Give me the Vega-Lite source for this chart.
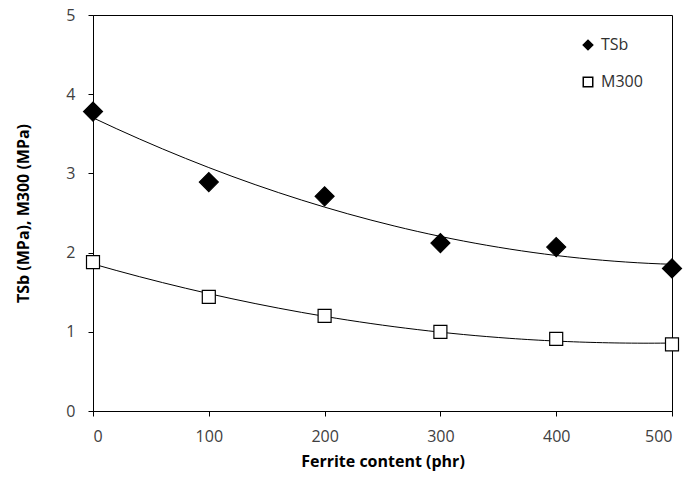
{
  "$schema": "https://vega.github.io/schema/vega-lite/v6.json",
  "width": 579,
  "height": 396,
  "autosize": {"type": "none"},
  "padding": {"left": 93, "top": 15, "right": 16, "bottom": 84},
  "background": "white",
  "config": {
    "font": "Open Sans",
    "view": {"stroke": "#000000", "strokeWidth": 1}
  },
  "data": {
    "values": [
      {"ferrite": 0, "value": 3.78, "series": "TSb"},
      {"ferrite": 100, "value": 2.89, "series": "TSb"},
      {"ferrite": 200, "value": 2.71, "series": "TSb"},
      {"ferrite": 300, "value": 2.12, "series": "TSb"},
      {"ferrite": 400, "value": 2.07, "series": "TSb"},
      {"ferrite": 500, "value": 1.8, "series": "TSb"},
      {"ferrite": 0, "value": 1.88, "series": "M300"},
      {"ferrite": 100, "value": 1.44, "series": "M300"},
      {"ferrite": 200, "value": 1.2, "series": "M300"},
      {"ferrite": 300, "value": 1.0, "series": "M300"},
      {"ferrite": 400, "value": 0.91, "series": "M300"},
      {"ferrite": 500, "value": 0.84, "series": "M300"}
    ]
  },
  "encoding": {
    "x": {
      "field": "ferrite", "type": "quantitative",
      "scale": {"domain": [0, 500], "nice": false},
      "axis": {
        "title": "Ferrite content (phr)", "values": [0, 100, 200, 300, 400, 500],
        "grid": false, "domainColor": "#000000", "tickColor": "#000000", "tickSize": 5,
        "labelFontSize": 16, "labelColor": "#404040", "labelPadding": 12,
        "titleFontSize": 16, "titleFontWeight": "bold", "titleColor": "#000000", "titlePadding": 9
      }
    },
    "y": {
      "field": "value", "type": "quantitative",
      "scale": {"domain": [0, 5], "nice": false},
      "axis": {
        "title": "TSb (MPa), M300 (MPa)", "values": [0, 1, 2, 3, 4, 5],
        "grid": false, "domainColor": "#000000", "tickColor": "#000000", "tickSize": 5,
        "labelFontSize": 16, "labelColor": "#404040", "labelPadding": 13,
        "titleFontSize": 16, "titleFontWeight": "bold", "titleColor": "#000000", "titlePadding": 34
      }
    }
  },
  "layer": [
    {
      "transform": [
        {"regression": "value", "on": "ferrite", "groupby": ["series"], "method": "poly", "order": 2, "extent": [0, 500]}
      ],
      "mark": {"type": "line", "color": "#000000", "strokeWidth": 1},
      "encoding": {"detail": {"field": "series"}}
    },
    {
      "mark": {"type": "point", "filled": false, "strokeWidth": 1.2, "opacity": 1},
      "encoding": {
        "size": {"condition": {"test": "datum.series === 'TSb'", "value": 361}, "value": 169},
        "shape": {
          "field": "series", "type": "nominal",
          "scale": {"domain": ["TSb", "M300"], "range": ["diamond", "square"]},
          "legend": {"title": null, "orient": "none", "legendX": 487, "legendY": 22, "labelFontSize": 16, "labelColor": "#303030", "symbolSize": 90, "rowPadding": 21, "labelOffset": 5}
        },
        "fill": {
          "field": "series", "type": "nominal",
          "scale": {"domain": ["TSb", "M300"], "range": ["#000000", "#ffffff"]},
          "legend": {"title": null, "orient": "none", "legendX": 487, "legendY": 22, "labelFontSize": 16, "labelColor": "#303030", "symbolSize": 90, "rowPadding": 21, "labelOffset": 5}
        },
        "stroke": {
          "field": "series", "type": "nominal",
          "scale": {"domain": ["TSb", "M300"], "range": ["#000000", "#000000"]},
          "legend": {"title": null, "orient": "none", "legendX": 487, "legendY": 22, "labelFontSize": 16, "labelColor": "#303030", "symbolSize": 90, "rowPadding": 21, "labelOffset": 5}
        }
      }
    }
  ]
}
